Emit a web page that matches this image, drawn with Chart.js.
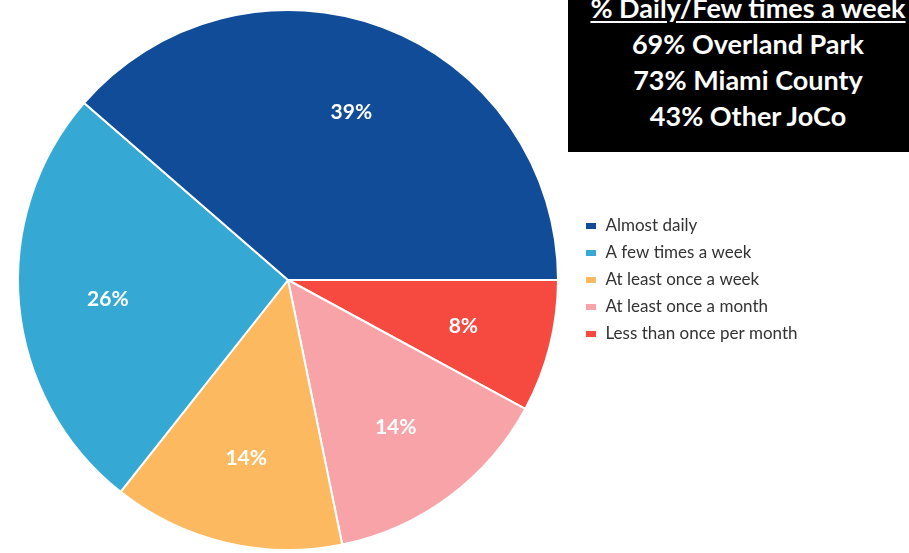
<!DOCTYPE html>
<html>
<head>
<meta charset="utf-8">
<script src="https://cdn.jsdelivr.net/npm/chart.js@4"></script>
<style>
    html, body { margin: 0; padding: 0; background: #fff; overflow: hidden; }
    #wrap { position: relative; width: 909px; height: 553px; }
    #chart_pie { position: absolute; left: 0; top: 0; }
    #note_box {
        position: absolute; left: 568px; top: -10px; width: 360px; height: 162px;
        background: #000; color: #fff; text-align: center;
        font-family: Lato, sans-serif; font-weight: bold; font-size: 27px; line-height: 36px;
    }
    #note_box .head { text-decoration: underline; text-underline-offset: 3px; }
</style>
</head>
<body>
<div id="wrap">
    <canvas id="chart_pie" width="909" height="553"></canvas>
    <div id="note_box">
        <div class="head">% Daily/Few times a week</div>
        <div>69% Overland Park</div>
        <div>73% Miami County</div>
        <div>43% Other JoCo</div>
    </div>
</div>
<script>
// legend order, as shown in the picture
const categories = ['Almost daily', 'A few times a week', 'At least once a week', 'At least once a month', 'Less than once per month'];
const percents = [39, 26, 14, 14, 8];
const colors = ['#114c99', '#35a8d3', '#fdb95f', '#f8a3a7', '#f64a40'];

// slices go clockwise from 3 o'clock starting with the last category
const pie_labels = categories.slice().reverse();
const pie_values = percents.slice().reverse();
const pie_colors = colors.slice().reverse();

// pin the pie and the legend where they sit in the original
const pin_layout = {
    id: 'pin_layout',
    afterLayout(chart) {
        const top = 9, bottom = 551, left = 17;
        const size = bottom - top;
        chart.chartArea = {left: left, top: top, right: left + size, bottom: bottom, width: size, height: size};
        const lg = chart.legend;
        const w = lg.width;
        lg.left = 575;
        lg.right = 575 + w;
    }
};

const slice_labels = {
    id: 'slice_labels',
    afterDatasetsDraw(chart) {
        const ctx = chart.ctx;
        const arcs = chart.getDatasetMeta(0).data;
        ctx.save();
        ctx.fillStyle = '#ffffff';
        ctx.font = 'bold 21px Lato, sans-serif';
        ctx.textAlign = 'center';
        ctx.textBaseline = 'middle';
        arcs.forEach(function(arc, i) {
            const mid = (arc.startAngle + arc.endAngle) / 2;
            const r = arc.outerRadius * 0.67;
            ctx.fillText(pie_values[i] + '%', arc.x + Math.cos(mid) * r, arc.y + Math.sin(mid) * r + 2);
        });
        ctx.restore();
    }
};

new Chart(document.getElementById('chart_pie'), {
    type: 'pie',
    data: {
        labels: pie_labels,
        datasets: [{
            data: pie_values,
            backgroundColor: pie_colors,
            borderColor: '#ffffff',
            borderWidth: 2,
        }]
    },
    options: {
        responsive: false,
        animation: false,
        rotation: 90,
        layout: {padding: {top: 9, bottom: 2, left: 17, right: 0}},
        plugins: {
            tooltip: {enabled: false},
            legend: {
                position: 'right',
                reverse: true,
                labels: {
                    boxWidth: 12,
                    boxHeight: 8,
                    padding: 10,
                    color: '#333333',
                    font: {family: 'Lato, sans-serif', size: 17}
                }
            }
        }
    },
    plugins: [pin_layout, slice_labels]
});
</script>
</body>
</html>
